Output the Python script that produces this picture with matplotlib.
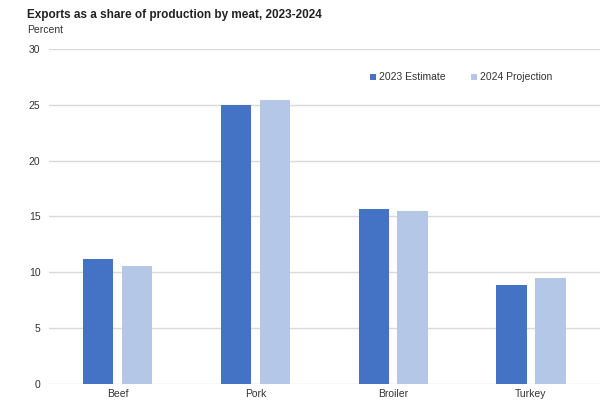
import matplotlib
matplotlib.use("Agg")
import matplotlib.pyplot as plt
import numpy as np

plt.rcParams['font.family'] = ['Liberation Sans', 'DejaVu Sans']

# data
meats = ['Beef', 'Pork', 'Broiler', 'Turkey']
est_2023 = [11.2, 25.0, 15.7, 8.9]
proj_2024 = [10.6, 25.4, 15.5, 9.5]

fig = plt.figure(figsize=(6.09, 4.08), dpi=100)
ax = fig.add_axes([0.080, 0.059, 0.905, 0.821])

x = np.arange(len(meats))
w = 0.22
ax.bar(x - 0.141, est_2023, w, color='#4472c4', label='2023 Estimate', zorder=3)
ax.bar(x + 0.141, proj_2024, w, color='#b4c7e7', label='2024 Projection', zorder=3)

ax.set_xlim(-0.5, 3.5)
ax.set_ylim(0, 30)
ax.set_yticks(range(0, 31, 5))
ax.set_xticks(x)
ax.set_xticklabels(meats)
ax.grid(axis='y', color='#d9d9d9', linewidth=1, zorder=0)
for s in ax.spines.values():
    s.set_visible(False)
ax.tick_params(length=0, labelsize=7.5, colors='#333333')
ax.tick_params(axis='y', pad=6)
ax.tick_params(axis='x', pad=4)

fig.text(0.045, 0.948, 'Exports as a share of production by meat, 2023-2024',
         fontsize=8.5, fontweight='bold', color='#222222', va='bottom')
fig.text(0.045, 0.914, 'Percent', fontsize=7.5, color='#333333', va='bottom')

ax.legend(loc='upper right', bbox_to_anchor=(0.93, 0.958), ncol=2, frameon=False,
          fontsize=7.5, handlelength=0.5, handleheight=0.5, handletextpad=0.3,
          columnspacing=2.5, labelcolor='#333333')

fig.savefig('out.png', dpi=100)
